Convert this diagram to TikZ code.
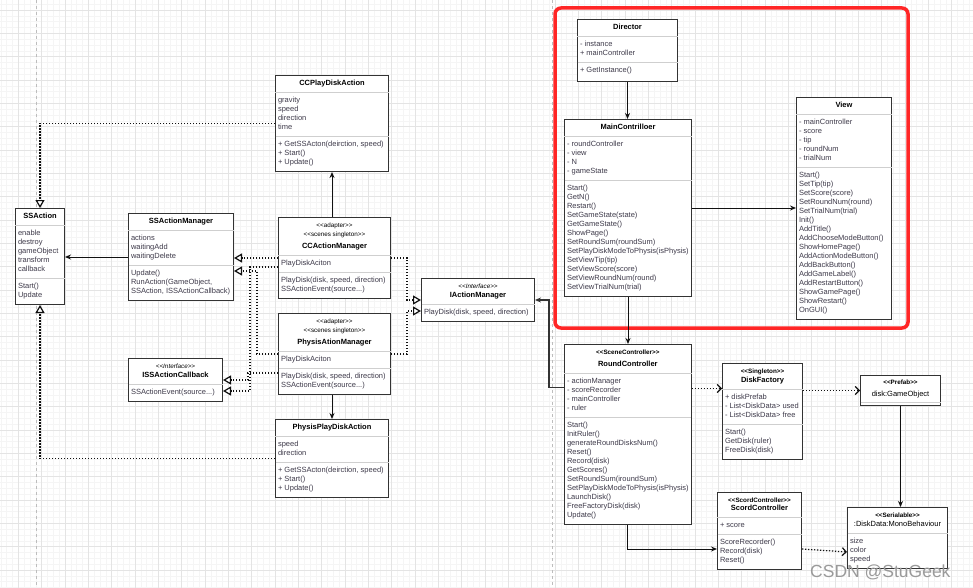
\documentclass[tikz,border=0pt]{standalone}
\usepackage{fontspec}
\setmainfont{Liberation Sans}
\usepackage{xcolor}
\usetikzlibrary{arrows.meta,positioning,shapes.multipart}
\definecolor{edgec}{HTML}{333333}
\definecolor{splitc}{HTML}{CFCFCF}
\definecolor{memb}{HTML}{3E3A4A}
\definecolor{wire}{HTML}{111111}
\definecolor{redbox}{HTML}{FF2626}
\definecolor{gridlo}{HTML}{F5F5F5}
\definecolor{gridhi}{HTML}{E4E4E4}
\definecolor{pagebrk}{HTML}{BDBDBD}
\definecolor{wmarkc}{HTML}{9A9A9A}
\newcommand{\ctitle}[1]{\color{black}\begin{tabular}{@{}c@{}}#1\end{tabular}}
\newcommand{\stereo}[1]{{\fontsize{6.3}{7}\selectfont <{}<#1>{}>}}
\newcommand{\stereoi}[1]{{\fontsize{6.3}{7}\selectfont\itshape <{}<#1>{}>}}
\newcommand{\stereob}[1]{{\fontsize{6.3}{7}\selectfont\bfseries <{}<#1>{}>}}
\newcommand{\members}[1]{\strut#1\strut}
\tikzset{
  umlcls/.style={rectangle split, rectangle split parts=3,
                 rectangle split draw splits=false,
                 rectangle split part align={center,left,left},
                 draw=edgec, line width=1pt, fill=white, anchor=north west,
                 align=left, inner xsep=2.5pt, inner ysep=3.5pt, text=memb,
                 font=\fontsize{7.5}{9}\selectfont},
  umlcls2/.style={umlcls, rectangle split parts=2,
                  rectangle split part align={center,left}},
  sepline/.style={draw=splitc, line width=1pt, shorten <=0.5pt, shorten >=0.5pt},
  % connectors
  assoc/.style={-{Stealth[length=6pt,width=5pt]}, line width=1pt, draw=wire},
  realize/.style={-{Triangle[length=8pt,width=9pt,fill=white]}, line width=1.2pt,
                  draw=wire, dash pattern=on 1.3pt off 1.7pt},
  depend/.style={-{Straight Barb[length=4pt,width=8pt]}, line width=1.2pt,
                 draw=wire, dash pattern=on 1.3pt off 1.7pt},
  wmark/.style={font=\fontsize{17.5}{20}\selectfont, text=wmarkc, inner sep=0pt},
}
\begin{document}
\begin{tikzpicture}[x=1pt,y=-1pt]
  \useasboundingbox (0,0) rectangle (973,588);
  \begin{scope}
    \clip (0,0) rectangle (973,588);
    \fill[white] (0,0) rectangle (973,588);
    \begin{scope}[xshift=18.3pt, yshift=-10pt]
      \draw[gridlo, line width=0.5pt, step=5.833pt] (-30,620) grid (1000,-30);
      \draw[gridhi, line width=0.7pt, step=23.333pt] (-30,620) grid (1000,-30);
    \end{scope}
    \draw[pagebrk, dashed, line width=1pt] (36,0) -- (36,588) (552,0) -- (552,588);
  \end{scope}
  \draw[redbox, line width=3.5pt, rounded corners=6pt] (555,8) rectangle (908,328);

  % left half: actions
  \node[umlcls, minimum width=49pt] (ssa) at (15,208)
       {\ctitle{\textbf{SSAction}}%
        \nodepart{two}\members{enable\\destroy\\gameObject\\transform\\callback}%
        \nodepart{three}\members{Start()\\Update}};
  \node[umlcls, minimum width=105pt] (ssam) at (128,213)
       {\ctitle{\textbf{SSActionManager}}%
        \nodepart{two}\members{actions\\waitingAdd\\waitingDelete}%
        \nodepart{three}\members{Update()\\RunAction(GameObject,\\SSAction, ISSActionCallback)}};
  \node[umlcls, minimum width=113pt] (ccpda) at (275,75)
       {\ctitle{\textbf{CCPlayDiskAction}}%
        \nodepart{two}\members{gravity\\speed\\direction\\time}%
        \nodepart{three}\members{+ GetSSActon(deirction, speed)\\+ Start()\\+ Update()}};
  \node[umlcls, minimum width=112pt] (ccam) at (278,217)
       {\ctitle{\stereo{adapter}\\\stereo{scenes singleton}\\[3pt]\textbf{CCActionManager}}%
        \nodepart{two}\members{PlayDiskAciton}%
        \nodepart{three}\members{PlayDisk(disk, speed, direction)\\SSActionEvent(source...)}};
  \node[umlcls, minimum width=112pt] (pham) at (278,313)
       {\ctitle{\stereo{adapter}\\\stereo{scenes singleton}\\[3pt]\textbf{PhysisAtionManager}}%
        \nodepart{two}\members{PlayDiskAciton}%
        \nodepart{three}\members{PlayDisk(disk, speed, direction)\\SSActionEvent(source...)}};
  \node[umlcls2, minimum width=113pt] (iam) at (421,278)
       {\ctitle{\stereoi{Interface}\\\textbf{IActionManager}}%
        \nodepart{two}\members{PlayDisk(disk, speed, direction)}};
  \node[umlcls2, minimum width=94pt] (ssacb) at (128,358)
       {\ctitle{\stereoi{Interface}\\\textbf{ISSActionCallback}}%
        \nodepart{two}\members{SSActionEvent(source...)}};
  \node[umlcls, minimum width=113pt] (phpda) at (275,419)
       {\ctitle{\textbf{PhysisPlayDiskAction}}%
        \nodepart{two}\members{speed\\direction}%
        \nodepart{three}\members{+ GetSSActon(deirction, speed)\\+ Start()\\+ Update()}};

  % right half: controllers
  \node[umlcls, minimum width=100pt] (dir) at (577,19)
       {\ctitle{\textbf{Director}}%
        \nodepart{two}\members{- instance\\+ mainController}%
        \nodepart{three}\members{+ GetInstance()\rule[-5pt]{0pt}{5pt}}};
  \node[umlcls, minimum width=127pt] (mc) at (564,119)
       {\ctitle{\textbf{MainContrilloer}}%
        \nodepart{two}\members{- roundController\\- view\\- N\\- gameState}%
        \nodepart{three}\members{Start()\\GetN()\\Restart()\\SetGameState(state)\\GetGameState()\\ShowPage()\\SetRoundSum(roundSum)\\SetPlayDiskModeToPhysis(isPhysis)\\SetViewTip(tip)\\SetViewScore(score)\\SetViewRoundNum(round)\\SetViewTrialNum(trial)}};
  \node[umlcls, minimum width=95pt] (view) at (796,97)
       {\ctitle{\textbf{View}}%
        \nodepart{two}\members{- mainController\\- score\\- tip\\- roundNum\\- trialNum}%
        \nodepart{three}\members{Start()\\SetTip(tip)\\SetScore(score)\\SetRoundNum(round)\\SetTrialNum(trial)\\Init()\\AddTitle()\\AddChooseModeButton()\\ShowHomePage()\\AddActionModeButton()\\AddBackButton()\\AddGameLabel()\\AddRestartButton()\\ShowGamePage()\\ShowRestart()\\OnGUI()}};
  \node[umlcls, minimum width=126pt] (rc) at (564,344)
       {\ctitle{\stereob{SceneController}\\[3pt]\textbf{RoundController}}%
        \nodepart{two}\members{- actionManager\\- scoreRecorder\\- mainController\\- ruler}%
        \nodepart{three}\members{Start()\\InitRuler()\\generateRoundDisksNum()\\Reset()\\Record(disk)\\GetScores()\\SetRoundSum(iroundSum)\\SetPlayDiskModeToPhysis(isPhysis)\\LaunchDisk()\\FreeFactoryDisk(disk)\\Update()}};
  \node[umlcls, minimum width=80pt] (df) at (722,363)
       {\ctitle{\stereob{Singleton}\\\textbf{DiskFactory}}%
        \nodepart{two}\members{+ diskPrefab\\- List<DiskData> used\\- List<DiskData> free}%
        \nodepart{three}\members{Start()\\GetDisk(ruler)\\FreeDisk(disk)}};
  \node[umlcls, rectangle split parts=1, minimum width=80pt, inner ysep=2pt] (dgo) at (860,375)
       {\ctitle{\stereob{Prefab}\\[3pt]disk:GameObject\\[4pt]}};
  \node[umlcls, minimum width=84pt] (sc) at (717,492)
       {\ctitle{\stereob{ScordController}\\[-1pt]\textbf{ScordController}}%
        \nodepart{two}\members{+ score}%
        \nodepart{three}\members{ScoreRecorder()\\Record(disk)\\Reset()}};
  \node[umlcls2, minimum width=100pt] (dd) at (847,507)
       {\ctitle{\stereob{Serialable}\\:DiskData:MonoBehaviour}%
        \nodepart{two}\members{size\\color\\speed}};

  \foreach \n in {ssa,ssam,ccpda,ccam,pham,phpda,dir,mc,view,rc,df,sc}
    \draw[sepline] (\n.text split west) -- (\n.text split east)
                   (\n.two split west) -- (\n.two split east);
  \foreach \n in {iam,ssacb,dd}
    \draw[sepline] (\n.text split west) -- (\n.text split east);
  \draw[sepline] ([yshift=4pt]dgo.south west) -- ([yshift=4pt]dgo.south east);

  \draw[assoc] (ssam.west) -- (ssam.west -| ssa.east);
  \draw[realize] (ccpda.west) -| (ssa.north);
  \draw[realize] (phpda.west) -| (ssa.south);
  \draw[assoc] (ccam.north -| ccpda.south) -- (ccpda.south);
  \draw[assoc] (pham.south -| phpda.north) -- (phpda.north);
  \draw[realize] (ccam.west) -- (ccam.west -| ssam.east);
  \draw[realize] (pham.west) -- ++(-21,0) |- ([yshift=-14pt]ssam.east);
  \draw[realize] ([yshift=-9pt]ccam.west) -- ++(-28,0) |- ([yshift=-11pt]ssacb.east);
  \draw[realize] ([yshift=-19pt]pham.west) -- ++(-30,0) |- (ssacb.east);
  \draw[realize] (ccam.east) -- ++(16,0) |- (iam.west);
  \draw[realize] (pham.east) -- ++(16,0) |- ([yshift=-11pt]iam.west);

  \draw[assoc] (dir.south) -- (dir.south |- mc.north);
  \draw[assoc] (mc.east) -- (mc.east -| view.west);
  \draw[assoc] (mc.south) -- (mc.south |- rc.north);
  \draw[assoc, draw=edgec, line width=1.4pt] ([yshift=47pt]rc.west) -- ++(-15,0) |- (iam.east);
  \draw[depend] ([yshift=46pt]rc.east) -- ([yshift=46pt]rc.east -| df.west);
  \draw[depend] (dgo.west -| df.east) -- (dgo.west);
  \draw[assoc] (dgo.south) -- (dgo.south |- dd.north);
  \draw[assoc] (rc.south) |- ([yshift=-18pt]sc.west);
  \draw[depend] ([yshift=-18pt]sc.east) -- ([yshift=-14pt]dd.west);

  \node[wmark, anchor=base west] (csdn) at (810,577) {CSDN @StuGeek};
\end{tikzpicture}
\end{document}
